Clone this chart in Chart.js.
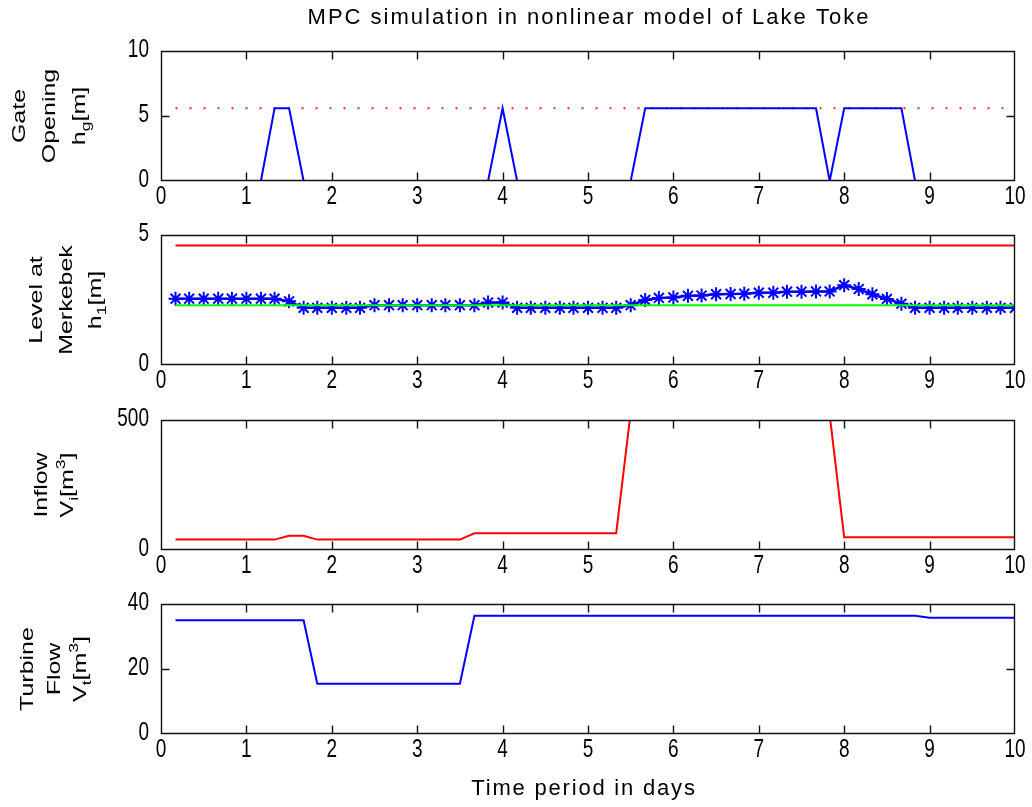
<!DOCTYPE html>
<html>
<head>
<meta charset="utf-8">
<script src="https://cdn.jsdelivr.net/npm/chart.js@4.4.0/dist/chart.umd.min.js"></script>
<style>
  body { margin: 0; background: #fff; width: 1032px; height: 807px; overflow: hidden; position: relative; }
  canvas { position: absolute; left: 0; }
</style>
</head>
<body>
<canvas id="gate" width="1032" height="221" style="top:0px"></canvas>
<canvas id="level" width="1032" height="186" style="top:219px"></canvas>
<canvas id="inflow" width="1032" height="186" style="top:404px"></canvas>
<canvas id="turbine" width="1032" height="219" style="top:588px"></canvas>
<script>
// time in days, one sample every 4 hours
const tDays = [0.17, 0.33, 0.5, 0.67, 0.83, 1, 1.17, 1.33, 1.5, 1.67,
  1.83, 2, 2.17, 2.33, 2.5, 2.67, 2.83, 3, 3.17, 3.33,
  3.5, 3.67, 3.83, 4, 4.17, 4.33, 4.5, 4.67, 4.83, 5,
  5.17, 5.33, 5.5, 5.67, 5.83, 6, 6.17, 6.33, 6.5, 6.67,
  6.83, 7, 7.17, 7.33, 7.5, 7.67, 7.83, 8, 8.17, 8.33,
  8.5, 8.67, 8.83, 9, 9.17, 9.33, 9.5, 9.67, 9.83, 10];

const gateOpening = [0, 0, 0, 0, 0, 0, 0, 5.6, 5.6, 0,
  0, 0, 0, 0, 0, 0, 0, 0, 0, 0,
  0, 0, 0, 5.6, 0, 0, 0, 0, 0, 0,
  0, 0, 0, 5.6, 5.6, 5.6, 5.6, 5.6, 5.6, 5.6,
  5.6, 5.6, 5.6, 5.6, 5.6, 5.6, 0, 5.6, 5.6, 5.6,
  5.6, 5.6, 0, 0, 0, 0, 0, 0, 0, 0];
const gateMax = 5.6;

const levelH1 = [2.55, 2.55, 2.55, 2.55, 2.55, 2.55, 2.55, 2.55, 2.45, 2.2,
  2.2, 2.2, 2.2, 2.2, 2.3, 2.3, 2.3, 2.3, 2.3, 2.3,
  2.3, 2.3, 2.4, 2.4, 2.2, 2.2, 2.2, 2.2, 2.2, 2.2,
  2.2, 2.2, 2.3, 2.5, 2.58, 2.6, 2.66, 2.67, 2.72, 2.73,
  2.74, 2.78, 2.78, 2.82, 2.82, 2.83, 2.83, 3.07, 2.92, 2.72,
  2.54, 2.36, 2.2, 2.2, 2.2, 2.2, 2.2, 2.2, 2.2, 2.2];
const levelMax = 4.6;
const levelMin = 2.3;

const inflowVi = [40, 40, 40, 40, 40, 40, 40, 40, 55, 55,
  40, 40, 40, 40, 40, 40, 40, 40, 40, 40,
  40, 64, 64, 64, 64, 64, 64, 64, 64, 64,
  64, 64, 530, 700, 820, 900, 950, 980, 1000, 1000,
  990, 960, 920, 860, 780, 680, 520, 49, 49, 49,
  49, 49, 49, 49, 49, 49, 49, 49, 49, 49];

const turbineVt = [35, 35, 35, 35, 35, 35, 35, 35, 35, 35,
  15.5, 15.5, 15.5, 15.5, 15.5, 15.5, 15.5, 15.5, 15.5, 15.5,
  15.5, 36.4, 36.4, 36.4, 36.4, 36.4, 36.4, 36.4, 36.4, 36.4,
  36.4, 36.4, 36.4, 36.4, 36.4, 36.4, 36.4, 36.4, 36.4, 36.4,
  36.4, 36.4, 36.4, 36.4, 36.4, 36.4, 36.4, 36.4, 36.4, 36.4,
  36.4, 36.4, 36.4, 35.8, 35.8, 35.8, 35.8, 35.8, 35.8, 35.8];

const xTicks = [0, 1, 2, 3, 4, 5, 6, 7, 8, 9, 10];

const SANS = "'Liberation Sans', Arial, sans-serif";
const TICK_FONT = '25px ' + SANS;
const SQUEEZE = 0.76;   // the picture is stretched vertically, so text looks narrow

function series(vals) {
  return tDays.map((t, i) => ({ x: t, y: vals[i] }));
}
function flat(v) {
  return [{ x: tDays[0], y: v }, { x: 10, y: v }];
}

// one rotated label line, sub (-1) / super (1) parts
function drawRotLine(ctx, x, cy, parts) {
  const SX = 1.35, SZ = 18.5, SMALL = 13;
  let w = 0;
  for (const [t, s] of parts) {
    ctx.font = (s ? SMALL : SZ) + 'px ' + SANS;
    w += ctx.measureText(t).width;
  }
  ctx.save();
  ctx.translate(x, cy);
  ctx.rotate(-Math.PI / 2);
  ctx.scale(SX, 1);
  ctx.fillStyle = '#000';
  ctx.textBaseline = 'alphabetic';
  let px = -w / 2;
  for (const [t, s] of parts) {
    ctx.font = (s ? SMALL : SZ) + 'px ' + SANS;
    ctx.fillText(t, px, s === -1 ? 5 : (s === 1 ? -8 : 0));
    px += ctx.measureText(t).width;
  }
  ctx.restore();
}

function squeezedText(ctx, text, x, y, align, baseline) {
  ctx.save();
  ctx.translate(x, y);
  ctx.scale(SQUEEZE, 1);
  ctx.textAlign = align;
  ctx.textBaseline = baseline;
  ctx.fillText(text, 0, 0);
  ctx.restore();
}

const matFrame = {
  id: 'matFrame',
  afterDatasetsDraw(chart, args, opts) {
    const { ctx, chartArea: a, scales } = chart;
    const L = Math.round(a.left) + 0.5, R = Math.round(a.right) - 0.5;
    const T = Math.round(a.top) + 0.5, B = Math.round(a.bottom) - 0.5;
    const tl = 8;
    ctx.save();
    ctx.strokeStyle = '#111';
    ctx.lineWidth = 1.4;
    ctx.beginPath();
    ctx.rect(L, T, R - L, B - T);
    scales.x.ticks.forEach(tk => {
      if (tk.value <= scales.x.min || tk.value >= scales.x.max) return;
      const x = Math.round(scales.x.getPixelForValue(tk.value)) + 0.5;
      ctx.moveTo(x, B); ctx.lineTo(x, B - tl);
      ctx.moveTo(x, T); ctx.lineTo(x, T + tl);
    });
    scales.y.ticks.forEach(tk => {
      if (tk.value <= scales.y.min || tk.value >= scales.y.max) return;
      const y = Math.round(scales.y.getPixelForValue(tk.value)) + 0.5;
      ctx.moveTo(L, y); ctx.lineTo(L + tl, y);
      ctx.moveTo(R, y); ctx.lineTo(R - tl, y);
    });
    ctx.stroke();
    ctx.restore();
  },
  afterDraw(chart, args, opts) {
    const { ctx, chartArea: a, scales } = chart;
    ctx.save();
    ctx.fillStyle = '#000';
    ctx.font = TICK_FONT;
    scales.x.ticks.forEach(tk => {
      squeezedText(ctx, String(tk.value), scales.x.getPixelForValue(tk.value), a.bottom + 16, 'center', 'middle');
    });
    scales.y.ticks.forEach(tk => {
      squeezedText(ctx, String(tk.value), a.left - 12, scales.y.getPixelForValue(tk.value) - 1, 'right', 'middle');
    });
    ctx.restore();

    const cy = (a.top + a.bottom) / 2;
    (opts.ylabel || []).forEach(ln => drawRotLine(ctx, ln.x, cy, ln.parts));

    ctx.save();
    ctx.fillStyle = '#000';
    ctx.textAlign = 'center';
    ctx.textBaseline = 'middle';
    if (opts.title) {
      ctx.font = '22px ' + SANS;
      ctx.letterSpacing = '2px';
      ctx.fillText(opts.title, (a.left + a.right) / 2 + 1, 18);
    }
    if (opts.xlabel) {
      ctx.font = '22px ' + SANS;
      ctx.letterSpacing = '1.8px';
      ctx.fillText(opts.xlabel, 584, a.bottom + 55);
    }
    ctx.restore();
  }
};

function makeChart(id, datasets, yMin, yMax, yStep, frame, padTop, xHeight) {
  return new Chart(document.getElementById(id), {
    type: 'line',
    data: { datasets: datasets },
    options: {
      responsive: false,
      animation: false,
      devicePixelRatio: 1,
      events: [],
      layout: { padding: { top: padTop, right: 17, left: 0, bottom: 0 } },
      plugins: { legend: { display: false }, tooltip: { enabled: false }, matFrame: frame },
      scales: {
        x: {
          type: 'linear', min: 0, max: 10,
          afterBuildTicks: s => { s.ticks = xTicks.map(v => ({ value: v })); },
          grid: { display: false, drawTicks: false },
          border: { display: false },
          ticks: { display: false },
          afterFit: s => { s.height = xHeight; }
        },
        y: {
          min: yMin, max: yMax,
          ticks: { stepSize: yStep, display: false },
          grid: { display: false, drawTicks: false },
          border: { display: false },
          afterFit: s => { s.width = 161; }
        }
      }
    },
    plugins: [matFrame]
  });
}

const lineBase = { pointRadius: 0, fill: false, tension: 0 };

makeChart('gate', [
  Object.assign({ data: series(gateOpening), borderColor: '#0000ff', borderWidth: 2 }, lineBase),
  Object.assign({ data: flat(gateMax), borderColor: 'rgba(255,0,0,0.85)', borderWidth: 2, borderDash: [2, 12] }, lineBase)
], 0, 10, 5, {
  title: 'MPC simulation in nonlinear model of Lake Toke',
  ylabel: [
    { x: 25, parts: [['Gate', 0]] },
    { x: 55, parts: [['Opening', 0]] },
    { x: 85, parts: [['h', 0], ['g', -1], ['[m]', 0]] }
  ]
}, 51, 40);

makeChart('level', [
  Object.assign({ data: flat(levelMin), borderColor: '#00ff00', borderWidth: 2 }, lineBase),
  Object.assign({ data: flat(levelMax), borderColor: '#ff0000', borderWidth: 2 }, lineBase),
  { data: series(levelH1), borderColor: '#0000ff', borderWidth: 2.5, fill: false, tension: 0,
    pointStyle: 'star', pointRadius: 7, pointBorderWidth: 2,
    pointBorderColor: '#0000ff', pointBackgroundColor: '#0000ff' }
], 0, 5, 5, {
  ylabel: [
    { x: 42, parts: [['Level at', 0]] },
    { x: 72, parts: [['Merkebek', 0]] },
    { x: 101, parts: [['h', 0], ['1', -1], ['[m]', 0]] }
  ]
}, 16, 40);

makeChart('inflow', [
  Object.assign({ data: series(inflowVi), borderColor: '#ff0000', borderWidth: 2 }, lineBase)
], 0, 500, 500, {
  ylabel: [
    { x: 47, parts: [['Inflow', 0]] },
    { x: 73, parts: [['V', 0], ['i', -1], ['[m', 0], ['3', 1], [']', 0]] }
  ]
}, 16, 40);

makeChart('turbine', [
  Object.assign({ data: series(turbineVt), borderColor: '#0000ff', borderWidth: 2 }, lineBase)
], 0, 40, 20, {
  xlabel: 'Time period in days',
  ylabel: [
    { x: 33, parts: [['Turbine', 0]] },
    { x: 60, parts: [['Flow', 0]] },
    { x: 86, parts: [['V', 0], ['t', -1], ['[m', 0], ['3', 1], [']', 0]] }
  ]
}, 16, 73);
</script>
</body>
</html>
